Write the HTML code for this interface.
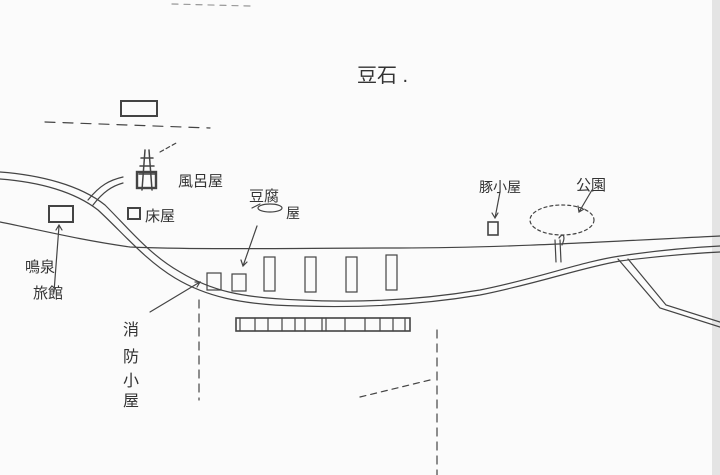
<!DOCTYPE html>
<html><head><meta charset="utf-8"><style>
html,body{margin:0;padding:0;background:#fbfbfb;}
svg{display:block}
text{font-family:"Liberation Sans","Noto Sans CJK JP",sans-serif;fill:#333;}
</style></head><body>
<svg width="720" height="475" viewBox="0 0 720 475" xmlns="http://www.w3.org/2000/svg">
<rect width="720" height="475" fill="#fbfbfb"/>
<rect x="712" y="0" width="8" height="475" fill="#e4e4e4"/>
<g fill="none" stroke="#444" stroke-width="1.2" stroke-linecap="round">
<path d="M172 4 L250 6" stroke="#999" stroke-dasharray="6 6"/>
<rect x="121" y="101" width="36" height="15" stroke-width="2"/>
<path d="M45 122 L210 128" stroke-dasharray="10 8"/>
<path d="M145 150 L142 190 M149 150 L152 190 M141 158 L153 158 M140 166 L154 166 M139 174 L155 174" stroke-width="1.5"/>
<rect x="137" y="172" width="19" height="16" stroke-width="2.4"/>
<path d="M160 152 L178 142" stroke-dasharray="4 3"/>
<path d="M0 172 C40 175 80 185 105 205 C130 230 150 255 180 272 C210 290 240 298 300 300 C360 303 420 300 480 290 C540 278 580 262 620 256 C660 250 700 247 720 246"/>
<path d="M0 179 C40 182 75 192 98 210 C122 232 145 260 175 278 C205 296 240 305 300 306 C360 308 420 305 480 295 C540 283 580 268 620 261 C660 256 700 253 720 252"/>
<path d="M0 222 C40 230 80 240 130 247 C200 250 300 248 400 248 C500 248 600 242 720 236"/>
<path d="M88 200 C100 185 110 180 123 177"/>
<path d="M93 205 C103 192 112 186 123 183"/>
<path d="M618 259 L660 308 L720 327"/>
<path d="M628 259 L666 305 L720 322"/>
<rect x="128" y="208" width="12" height="11" stroke-width="2"/>
<rect x="49" y="206" width="24" height="16" stroke-width="2"/>
<rect x="207" y="273" width="14" height="17"/>
<rect x="232" y="274" width="14" height="17"/>
<rect x="264" y="257" width="11" height="34"/>
<rect x="305" y="257" width="11" height="35"/>
<rect x="346" y="257" width="11" height="35"/>
<rect x="386" y="255" width="11" height="35"/>
<rect x="488" y="222" width="10" height="13" stroke-width="1.6"/>
<rect x="236" y="318" width="174" height="13" stroke-width="1.6"/>
<path d="M240 318 V331 M255 318 V331 M268 318 V331 M282 318 V331 M295 318 V331 M305 318 V331 M322 318 V331 M326 318 V331 M345 318 V331 M365 318 V331 M380 318 V331 M393 318 V331 M405 318 V331"/>
<path d="M199 300 V400" stroke-dasharray="8 6"/>
<path d="M360 397 L430 380" stroke-dasharray="6 5"/>
<path d="M437 330 V475" stroke-dasharray="8 6"/>
<path d="M54 292 L59 226 M56 230 L59 225 L62 230"/>
<path d="M150 312 L200 282 M195 282 L200 282 L197 287"/>
<path d="M257 226 L243 266 M241 260 L243 266 L247 262"/>
<path d="M500 192 L495 218 M492 213 L495 218 L498 213"/>
<path d="M592 190 L579 212 M578 206 L579 212 L584 209"/>
<ellipse cx="562" cy="220" rx="32" ry="15" stroke-dasharray="3 3"/>
<path d="M555 240 L556 262 M560 240 L561 262 M559 238 C563 232 566 236 562 245"/>
<ellipse cx="270" cy="208" rx="12" ry="4"/>
<path d="M252 208 L260 204"/>
</g>
<text x="357" y="82" font-size="20">豆石 .</text>
<text x="178" y="186" font-size="15">風呂屋</text>
<text x="145" y="221" font-size="15">床屋</text>
<text x="249" y="201" font-size="15">豆腐</text>
<text x="286" y="218" font-size="14">屋</text>
<text x="479" y="192" font-size="14">豚小屋</text>
<text x="576" y="190" font-size="15">公園</text>
<text x="25" y="272" font-size="15">鳴泉</text>
<text x="33" y="298" font-size="15">旅館</text>
<text x="123" y="335" font-size="16">消</text>
<text x="123" y="362" font-size="16">防</text>
<text x="123" y="386" font-size="16">小</text>
<text x="123" y="406" font-size="16">屋</text>
</svg>
</body></html>
